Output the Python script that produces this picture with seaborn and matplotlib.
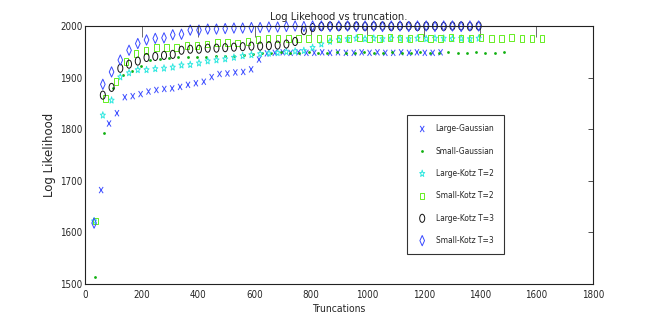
import numpy as np
import matplotlib
matplotlib.use("Agg")
import matplotlib.pyplot as plt
import seaborn as sns
from matplotlib.path import Path
from matplotlib.transforms import Affine2D

# truncation grids (each run used its own step)
x_lg = list(range(56, 1261, 28))
x_sg = list(range(33, 1486, 33))
x_lk2 = list(range(31, 1396, 31))
x_sk2 = list(range(36, 1621, 36))
x_lk3 = list(range(62, 1396, 31))
x_sk3 = list(range(31, 1396, 31))

large_gauss = [1682, 1811, 1831, 1862, 1864, 1868, 1873, 1876, 1878, 1879, 1882,
               1886, 1889, 1892, 1901, 1907, 1908, 1910, 1911, 1916, 1935, 1947,
               1948, 1949, 1948, 1949, 1948, 1948, 1949, 1948, 1949, 1948, 1948,
               1949, 1948, 1949, 1948, 1948, 1949, 1948, 1949, 1948, 1948, 1949]
small_gauss = [1513, 1793, 1880, 1905, 1912, 1922, 1935, 1936, 1938, 1939, 1939,
               1940, 1940, 1941, 1941, 1942, 1944, 1945, 1948, 1948, 1949, 1948,
               1948, 1949, 1948, 1948, 1949, 1948, 1948, 1949, 1948, 1948, 1949,
               1948, 1948, 1949, 1948, 1948, 1949, 1948, 1948, 1949, 1948, 1948, 1949]
large_kotz2 = [1622, 1827, 1856, 1901, 1909, 1915, 1915, 1917, 1918, 1920, 1924,
               1925, 1928, 1932, 1934, 1936, 1939, 1942, 1944, 1946, 1947, 1948,
               1950, 1951, 1952, 1958, 1965, 1970, 1973, 1975, 1976, 1975, 1976,
               1975, 1976, 1976, 1975, 1976, 1975, 1976, 1976, 1975, 1976, 1975, 1976]
small_kotz2 = [1622, 1859, 1892, 1931, 1947, 1952, 1959, 1959, 1959, 1962, 1962,
               1965, 1968, 1968, 1967, 1970, 1974, 1976, 1976, 1976, 1975, 1975,
               1975, 1976, 1976, 1976, 1977, 1976, 1976, 1977, 1976, 1976, 1977,
               1976, 1976, 1977, 1976, 1976, 1977, 1976, 1976, 1977, 1976, 1976, 1976]
large_kotz3 = [1866, 1881, 1918, 1926, 1932, 1939, 1941, 1943, 1945, 1953, 1955,
               1955, 1957, 1957, 1958, 1959, 1960, 1961, 1961, 1962, 1963, 1965,
               1970, 1991, 1997, 1999, 2000, 1999, 2000, 2000, 1999, 2000, 2000,
               1999, 2000, 2000, 1999, 2000, 2000, 1999, 2000, 2000, 1999, 2000]
small_kotz3 = [1618, 1887, 1911, 1934, 1953, 1966, 1973, 1976, 1977, 1983, 1984,
               1992, 1992, 1994, 1994, 1995, 1996, 1996, 1997, 1997, 1998, 1998,
               1999, 2000, 1999, 2000, 2000, 1999, 2000, 2000, 1999, 2000, 2000,
               1999, 2000, 2000, 1999, 2000, 2000, 1999, 2000, 2000, 1999, 2000, 2000]

labels = ["Large-Gaussian", "Small-Gaussian", "Large-Kotz T=2",
          "Small-Kotz T=2", "Large-Kotz T=3", "Small-Kotz T=3"]

# tall narrow marker shapes (the original figure was squeezed sideways)
diamond = Path([(0, -1), (0.45, 0), (0, 1), (-0.45, 0), (0, -1)],
               [Path.MOVETO, Path.LINETO, Path.LINETO, Path.LINETO, Path.CLOSEPOLY])
ellipse = Path.unit_circle().transformed(Affine2D().scale(0.62, 1))
square = Path([(-0.33, -0.5), (0.33, -0.5), (0.33, 0.5), (-0.33, 0.5), (-0.33, -0.5)],
              [Path.MOVETO, Path.LINETO, Path.LINETO, Path.LINETO, Path.CLOSEPOLY])
star = Path.unit_regular_star(5, 0.4).transformed(Affine2D().scale(0.75, 1))
cross = Path([(-0.65, -1), (0.65, 1), (-0.65, 1), (0.65, -1)],
             [Path.MOVETO, Path.LINETO, Path.MOVETO, Path.LINETO])

sns.set_style("white")
plt.rcParams["font.family"] = ["Liberation Sans Narrow", "DejaVu Sans"]
plt.rcParams["font.stretch"] = "condensed"

fig = plt.figure(figsize=(6.54, 3.27), dpi=100)
ax = fig.add_axes([0.1305, 0.1315, 0.776, 0.789])

series = [
    (x_lg, large_gauss, cross, 20, "#3f4fff"),
    (x_sg, small_gauss, "o", 4, "#10b010"),
    (x_lk2, large_kotz2, star, 26, "#30e8e0"),
    (x_sk2, small_kotz2, square, 24, "#66ee22"),
    (x_lk3, large_kotz3, ellipse, 34, "#111111"),
    (x_sk3, small_kotz3, diamond, 55, "#3a4aff"),
]

for (xs, ys, mk, sz, col), lab in zip(series, labels):
    if isinstance(mk, str):
        sns.scatterplot(x=xs, y=ys, marker=mk, s=sz, color=col, linewidth=0,
                        label=lab, ax=ax, clip_on=False)
    else:
        sns.scatterplot(x=xs, y=ys, marker=mk, s=sz, color=col, facecolor="none",
                        edgecolor=col, linewidth=0.7, label=lab, ax=ax, clip_on=False)

ax.set_xlim(0, 1800)
ax.set_ylim(1500, 2000)
ax.set_xticks(range(0, 1801, 200))
ax.set_yticks(range(1500, 2001, 100))
ax.tick_params(axis="x", direction="in", length=8, width=0.6, top=True,
               labelsize=7, pad=4, color="#555555")
ax.tick_params(axis="y", direction="in", length=3.6, width=0.6, right=True,
               labelsize=7, pad=2, color="#333333")
for sp in ax.spines.values():
    sp.set_color("#222222")
    sp.set_linewidth(0.8)

ax.set_title("Log Likehood vs truncation.", fontsize=8, pad=4)
ax.set_xlabel("Truncations", fontsize=7.5, labelpad=3)
ax.set_ylabel("Log Likelihood", fontsize=8.5, labelpad=3,
              family="DejaVu Sans", stretch="normal")

leg = ax.legend(loc="upper left", bbox_to_anchor=(407 / 654, 1 - 115 / 327),
                bbox_transform=fig.transFigure, fontsize=6, frameon=True,
                fancybox=False, edgecolor="black", labelspacing=1.6,
                handletextpad=0.9, borderpad=1.1, handlelength=1.45, borderaxespad=0)
leg.get_frame().set_linewidth(0.8)

fig.savefig("out.png", dpi=100)
